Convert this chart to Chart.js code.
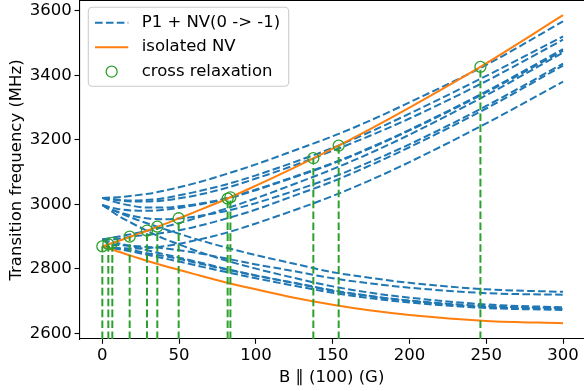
<!DOCTYPE html>
<html>
<head>
<meta charset="utf-8">
<script src="https://cdn.jsdelivr.net/npm/chart.js@4.4.1/dist/chart.umd.min.js"></script>
<style>
  html, body { margin: 0; padding: 0; background: #fff; overflow: hidden; }
  canvas { display: block; }
</style>
</head>
<body>
<canvas id="chart" width="584" height="391"></canvas>
<script>
// Magnetic field along (100), in gauss
const fieldG = [0, 5, 10, 20, 30, 40, 50, 60, 80, 100, 125, 150, 175, 200, 250, 300];

// Isolated NV transitions (MHz)
const nvPlus  = [2870, 2878, 2886, 2903, 2920, 2938, 2957, 2976, 3015, 3058, 3114, 3173, 3235, 3300, 3437, 3586];
const nvMinus = [2870, 2862, 2854, 2839, 2824, 2810, 2797, 2784, 2759, 2737, 2711, 2689, 2671, 2657, 2639, 2632];

// NV(0 -> -1) plus each P1 transition (MHz)
const p1Top       = [3020, 3021, 3022, 3027, 3033, 3042, 3053, 3065, 3093, 3124, 3167, 3211, 3261, 3316, 3432, 3567];
const p1HalfUpA   = [3020, 3017, 3014, 3012, 3014, 3019, 3028, 3038, 3061, 3090, 3131, 3175, 3226, 3281, 3398, 3520];
const p1HalfUpB   = [3020, 3017, 3013, 3009, 3009, 3012, 3019, 3027, 3050, 3080, 3121, 3166, 3214, 3266, 3382, 3510];
const p1CentreA   = [3020, 3012, 3005, 2995, 2990, 2990, 2994, 3000, 3018, 3046, 3086, 3128, 3177, 3231, 3350, 3481];
const p1CentreB   = [2998, 2991, 2986, 2981, 2980, 2983, 2989, 2997, 3016, 3044, 3084, 3126, 3175, 3229, 3347, 3476];
const p1CentreC   = [2891, 2896, 2900, 2909, 2919, 2930, 2942, 2956, 2986, 3019, 3063, 3109, 3160, 3216, 3338, 3470];
const p1HalfDownA = [2998, 2986, 2977, 2964, 2956, 2954, 2956, 2962, 2979, 3004, 3042, 3084, 3133, 3186, 3305, 3436];
const p1HalfDownB = [2891, 2892, 2893, 2901, 2906, 2912, 2920, 2930, 2955, 2984, 3027, 3071, 3122, 3177, 3297, 3430];
const p1Bottom    = [2870, 2867, 2865, 2863, 2865, 2870, 2878, 2888, 2911, 2941, 2982, 3026, 3076, 3131, 3251, 3380];
const p1NucWideA  = [2998, 2986, 2976, 2957, 2940, 2924, 2909, 2894, 2867, 2843, 2816, 2790, 2772, 2757, 2737, 2729];
const p1NucWideB  = [2891, 2876, 2874, 2871, 2868, 2864, 2858, 2851, 2833, 2814, 2793, 2771, 2755, 2742, 2725, 2720];
const p1NucA      = [2998, 2982, 2966, 2940, 2916, 2894, 2876, 2858, 2827, 2801, 2772, 2746, 2726, 2711, 2690, 2681];
const p1NucB      = [2891, 2884, 2880, 2869, 2857, 2846, 2835, 2824, 2801, 2780, 2757, 2734, 2716, 2702, 2685, 2679];
const p1NucC      = [2870, 2867, 2863, 2857, 2848, 2840, 2831, 2820, 2799, 2779, 2756, 2732, 2715, 2701, 2682, 2676];
const p1NucD      = [2870, 2866, 2862, 2853, 2843, 2833, 2823, 2812, 2791, 2771, 2748, 2726, 2709, 2696, 2679, 2673];

// Cross-relaxation resonances on the upper NV branch
const crossField = [0, 3.9, 6.5, 17.8, 29.1, 35.8, 49.7, 81.6, 83.4, 137.4, 153.9, 246.2];
const crossFreq  = [2870, 2877, 2881, 2900, 2919, 2931, 2957, 3018, 3022, 3143, 3182, 3426];

// Axis ticks and limits
const xTickValues = [0, 50, 100, 150, 200, 250, 300];
const yTickValues = [2600, 2800, 3000, 3200, 3400, 3600];
const X_MIN = -15, X_MAX = 313.65;
const Y_MIN = 2583, Y_MAX = 3630;

const BLUE = '#1f77b4', ORANGE = '#ff7f0e', GREEN = '#2ca02c';
const FONT = 'DejaVu Sans';
const FS = 16.5;
const DASH = [7.6, 3.3];

const p1Branches = [p1Top, p1HalfUpA, p1HalfUpB, p1CentreA, p1CentreB, p1CentreC,
  p1HalfDownA, p1HalfDownB, p1Bottom, p1NucWideA, p1NucWideB, p1NucA, p1NucB, p1NucC, p1NucD];

const toPoints = ys => fieldG.map((x, i) => ({ x, y: ys[i] }));

const datasets = [];
p1Branches.forEach((ys, i) => {
  datasets.push({
    label: 'P1 + NV(0 -> -1)',
    inLegend: i === 0,
    data: toPoints(ys),
    borderColor: BLUE,
    borderWidth: 2,
    borderDash: DASH,
    pointRadius: 0,
    cubicInterpolationMode: 'monotone',
    order: 4
  });
});
[nvPlus, nvMinus].forEach((ys, i) => {
  datasets.push({
    label: 'isolated NV',
    inLegend: i === 0,
    data: toPoints(ys),
    borderColor: ORANGE,
    borderWidth: 2,
    pointRadius: 0,
    cubicInterpolationMode: 'monotone',
    order: 3
  });
});
// vertical markers dropping from each resonance to the axis
crossField.forEach((x, i) => {
  datasets.push({
    label: 'resonance field',
    inLegend: false,
    data: [{ x, y: Y_MIN }, { x, y: crossFreq[i] }],
    borderColor: GREEN,
    borderWidth: 2,
    borderDash: DASH,
    pointRadius: 0,
    tension: 0,
    order: 2
  });
});
datasets.push({
  label: 'cross relaxation',
  inLegend: true,
  data: crossField.map((x, i) => ({ x, y: crossFreq[i] })),
  showLine: false,
  borderColor: GREEN,
  backgroundColor: 'rgba(0,0,0,0)',
  pointStyle: 'circle',
  pointRadius: 5.5,
  pointBorderWidth: 1.3,
  order: 1
});

// Legend box drawn in the upper-left of the plot area
const cornerLegend = {
  id: 'cornerLegend',
  afterDraw(chart) {
    const { ctx, chartArea } = chart;
    const items = chart.data.datasets.filter(d => d.inLegend);
    ctx.save();
    ctx.font = FS + 'px "' + FONT + '"';
    const textW = Math.max(...items.map(d => ctx.measureText(d.label).width));
    const x0 = chartArea.left + 9, y0 = chartArea.top + 6.3;
    const textX = x0 + 53.4;
    const w = textX + textW + 8.5 - x0, h = 79;
    ctx.fillStyle = 'rgba(255,255,255,0.8)';
    ctx.strokeStyle = '#cccccc';
    ctx.lineWidth = 1.1;
    ctx.beginPath();
    ctx.roundRect(x0, y0, w, h, 4);
    ctx.fill();
    ctx.stroke();
    items.forEach((d, i) => {
      const cy = y0 + 15.4 + i * 24.5;
      const hx0 = x0 + 6.7, hx1 = x0 + 40;
      if (d.showLine === false) {
        ctx.setLineDash([]);
        ctx.strokeStyle = d.borderColor;
        ctx.lineWidth = d.pointBorderWidth;
        ctx.beginPath();
        ctx.arc((hx0 + hx1) / 2, cy, d.pointRadius, 0, Math.PI * 2);
        ctx.stroke();
      } else {
        ctx.setLineDash(d.borderDash || []);
        ctx.strokeStyle = d.borderColor;
        ctx.lineWidth = d.borderWidth;
        ctx.beginPath();
        ctx.moveTo(hx0, cy);
        ctx.lineTo(hx1, cy);
        ctx.stroke();
      }
      ctx.setLineDash([]);
      ctx.fillStyle = '#000';
      ctx.textAlign = 'left';
      ctx.textBaseline = 'middle';
      ctx.fillText(d.label, textX, cy);
    });
    ctx.restore();
  }
};

const tickFont = { family: FONT, size: FS };

new Chart(document.getElementById('chart'), {
  type: 'line',
  data: { datasets },
  plugins: [cornerLegend],
  options: {
    responsive: false,
    devicePixelRatio: 1,
    animation: false,
    layout: { padding: 0, autoPadding: false },
    plugins: { legend: { display: false }, tooltip: { enabled: false } },
    scales: {
      x: {
        type: 'linear',
        position: 'bottom',
        min: X_MIN,
        max: X_MAX,
        afterBuildTicks: s => { s.ticks = xTickValues.map(v => ({ value: v })); },
        afterFit: s => { s.height = 52; s.paddingLeft = 0; s.paddingRight = 0; },
        ticks: { font: tickFont, color: '#000', padding: 2, maxRotation: 0, callback: v => String(v) },
        grid: { drawOnChartArea: false, drawTicks: true, tickLength: 4.8, tickWidth: 1.1, tickColor: '#000' },
        border: { display: true, color: '#000', width: 1.1 },
        title: { display: true, text: 'B \u2225 (100) (G)', font: tickFont, color: '#000', padding: { top: 0, bottom: 3 } }
      },
      xTop: {
        type: 'linear',
        position: 'top',
        min: X_MIN,
        max: X_MAX,
        afterFit: s => { s.height = 1; s.paddingLeft = 0; s.paddingRight = 0; },
        ticks: { display: false },
        grid: { drawOnChartArea: false, drawTicks: false },
        border: { display: true, color: '#000', width: 1.1 }
      },
      y: {
        type: 'linear',
        position: 'left',
        min: Y_MIN,
        max: Y_MAX,
        afterBuildTicks: s => { s.ticks = yTickValues.map(v => ({ value: v })); },
        afterFit: s => { s.width = 79.3; s.paddingTop = 0; s.paddingBottom = 0; },
        ticks: { font: tickFont, color: '#000', padding: 2.8, callback: v => String(v) },
        grid: { drawOnChartArea: false, drawTicks: true, tickLength: 4.8, tickWidth: 1.1, tickColor: '#000' },
        border: { display: true, color: '#000', width: 1.1 },
        title: { display: true, text: 'Transition frequency (MHz)', font: tickFont, color: '#000', padding: { top: 7, bottom: 0 } }
      }
    }
  }
});
</script>
</body>
</html>
